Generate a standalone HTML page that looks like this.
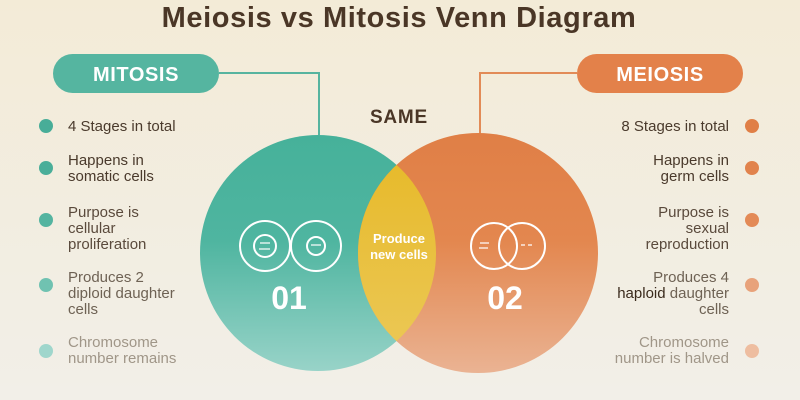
<!DOCTYPE html>
<html><head><style>
body{margin:0;width:800px;height:400px;overflow:hidden;background:linear-gradient(#f3ebd7,#f2efe8);font-family:"Liberation Sans",sans-serif;}
svg{display:block}
</style></head><body>
<svg width="800" height="400" viewBox="0 0 800 400">
<defs>
<linearGradient id="g1" x1="0" y1="0" x2="0" y2="1"><stop offset="0" stop-color="#46b19a"/><stop offset="0.45" stop-color="#4fb5a0"/><stop offset="1" stop-color="#98d3c8"/></linearGradient>
<linearGradient id="g2" x1="0" y1="0" x2="0" y2="1"><stop offset="0" stop-color="#e07f46"/><stop offset="0.45" stop-color="#e3874f"/><stop offset="1" stop-color="#eab393"/></linearGradient>
<linearGradient id="g3" x1="0" y1="0" x2="0" y2="1"><stop offset="0" stop-color="#e6b825"/><stop offset="1" stop-color="#ecc95a"/></linearGradient>
<clipPath id="cl"><circle cx="318" cy="253" r="118"/></clipPath>
</defs>
<text x="399" y="27" text-anchor="middle" font-size="29" font-weight="bold" letter-spacing="0.6" fill="#4a3626">Meiosis vs Mitosis Venn Diagram</text>
<polyline points="219,73 319,73 319,135" fill="none" stroke="#56b49f" stroke-width="2"/>
<polyline points="577,73 480,73 480,135" fill="none" stroke="#e28b57" stroke-width="2"/>
<rect x="53" y="54" width="166" height="39" rx="19.5" fill="#55b5a0"/>
<text x="136" y="81" text-anchor="middle" font-size="20" font-weight="bold" letter-spacing="0.6" fill="#fff">MITOSIS</text>
<rect x="577" y="54" width="166" height="39" rx="19.5" fill="#e3814a"/>
<text x="660" y="81" text-anchor="middle" font-size="20" font-weight="bold" letter-spacing="0.6" fill="#fff">MEIOSIS</text>
<text x="399" y="123" text-anchor="middle" font-size="19" font-weight="bold" letter-spacing="0.8" fill="#4a3626">SAME</text>
<circle cx="318" cy="253" r="118" fill="url(#g1)"/>
<circle cx="478" cy="253" r="120" fill="url(#g2)"/>
<circle cx="478" cy="253" r="120" fill="url(#g3)" clip-path="url(#cl)"/>
<g fill="none" stroke="#fff" stroke-width="2">
<circle cx="265" cy="246" r="25"/><circle cx="265" cy="246" r="11"/>
<circle cx="316" cy="246" r="25"/><circle cx="316" cy="246" r="9"/>
<circle cx="494" cy="246" r="23"/><circle cx="522" cy="246" r="23"/>
</g>
<g stroke="#fff" stroke-width="1.2">
<line x1="260" y1="243" x2="270" y2="243"/><line x1="259" y1="249" x2="270" y2="249"/>
<line x1="311" y1="245" x2="321" y2="245"/>
<line x1="480" y1="243" x2="489" y2="243"/><line x1="479" y1="248" x2="488" y2="248"/>
<line x1="521" y1="245" x2="533" y2="245" stroke-dasharray="4 3"/>
</g>
<text x="289" y="309" text-anchor="middle" font-size="32" font-weight="bold" fill="#fff">01</text>
<text x="505" y="309" text-anchor="middle" font-size="32" font-weight="bold" fill="#fff">02</text>
<text x="399" y="243" text-anchor="middle" font-size="13" font-weight="bold" fill="#fff">Produce</text>
<text x="399" y="259" text-anchor="middle" font-size="13" font-weight="bold" fill="#fff">new cells</text>
<g font-size="15">
<circle cx="46" cy="126" r="7" fill="#48ad98"/>
<text x="68" y="131" fill="#4a3a2c">4 Stages in total</text>
<circle cx="46" cy="168" r="7" fill="#4aae99"/>
<text x="68" y="165" fill="#4a3a2c">Happens in</text><text x="68" y="181" fill="#4a3a2c">somatic cells</text>
<circle cx="46" cy="220" r="7" fill="#54b4a0"/>
<text x="68" y="217" fill="#5a4a3c">Purpose is</text><text x="68" y="233" fill="#5a4a3c">cellular</text><text x="68" y="249" fill="#5a4a3c">proliferation</text>
<circle cx="46" cy="285" r="7" fill="#70c2b1"/>
<text x="68" y="282" fill="#6e6254">Produces 2</text><text x="68" y="298" fill="#6e6254">diploid daughter</text><text x="68" y="314" fill="#6e6254">cells</text>
<circle cx="46" cy="351" r="7" fill="#9fd6cc"/>
<text x="68" y="347" fill="#a09688">Chromosome</text><text x="68" y="363" fill="#a09688">number remains</text>
</g>
<g font-size="15" text-anchor="end">
<circle cx="752" cy="126" r="7" fill="#e07f46"/>
<text x="729" y="131" fill="#4a3a2c">8 Stages in total</text>
<circle cx="752" cy="168" r="7" fill="#e1834c"/>
<text x="729" y="165" fill="#4a3a2c">Happens in</text><text x="729" y="181" fill="#4a3a2c">germ cells</text>
<circle cx="752" cy="220" r="7" fill="#e38a56"/>
<text x="729" y="217" fill="#5a4a3c">Purpose is</text><text x="729" y="233" fill="#5a4a3c">sexual</text><text x="729" y="249" fill="#5a4a3c">reproduction</text>
<circle cx="752" cy="285" r="7" fill="#e8a27a"/>
<text x="729" y="282" fill="#6e6254">Produces 4</text><text x="729" y="298" fill="#6e6254"><tspan fill="#3a2a1c">haploid</tspan> daughter</text><text x="729" y="314" fill="#6e6254">cells</text>
<circle cx="752" cy="351" r="7" fill="#eebda0"/>
<text x="729" y="347" fill="#a09688">Chromosome</text><text x="729" y="363" fill="#a09688">number is halved</text>
</g>
</svg>
</body></html>
